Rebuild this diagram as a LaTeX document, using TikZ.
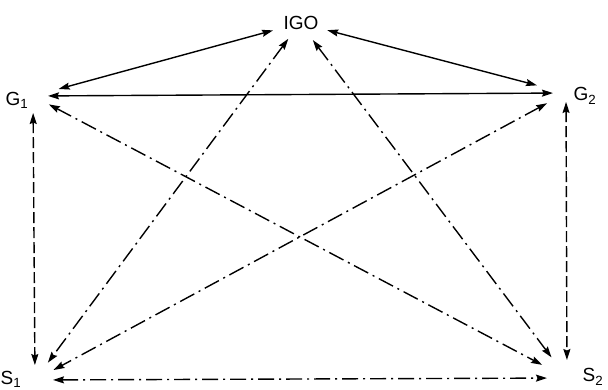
\documentclass[tikz,border=0pt]{standalone}
\usepackage{fontspec}
\setmainfont{Liberation Sans}
\usetikzlibrary{arrows.meta}

\begin{document}
\begin{tikzpicture}[x=1pt,y=-1pt,
  lab/.style={font=\fontsize{19}{21}\selectfont,inner sep=0pt},
  link/.style={line width=1.4pt,{Stealth[length=11pt,width=7pt,inset=1.5pt]}-{Stealth[length=11pt,width=7pt,inset=1.5pt]}},
  dlink/.style={link,dash pattern=on 11pt off 4pt},
  ddlink/.style={link,dash pattern=on 16pt off 5pt on 2pt off 5pt}]
\useasboundingbox (0,0) rectangle (608,389);
% labels
\node[lab] (igo) at (301,23) {IGO};
\node[lab] (g1l) at (17,100) {G\textsubscript{1}};
\node[lab] (g2l) at (585,96) {G\textsubscript{2}};
\node[lab] (s1l) at (11,379) {S\textsubscript{1}};
\node[lab] (s2l) at (593,377) {S\textsubscript{2}};
% meeting points of the arrows
\coordinate (i) at (300,23);
\coordinate (g1) at (33,96);
\coordinate (g2) at (566,93);
\coordinate (s1) at (35,380);
\coordinate (s2) at (567,378);
% solid
\draw[link,shorten <=28pt,shorten >=26.6pt] (i) -- (g1);
\draw[link,shorten <=28.2pt,shorten >=30pt] (i) -- (g2);
\draw[link,shorten <=15pt,shorten >=13pt] (g1) -- (g2);
% dashed
\draw[dlink,shorten <=17pt,shorten >=15pt] (g1) -- (s1);
\draw[dlink,shorten <=9pt,shorten >=18pt] (g2) -- (s2);
% dash-dot
\draw[ddlink,shorten <=19.7pt,shorten >=21.6pt] (i) -- (s1);
\draw[ddlink,shorten <=21.4pt,shorten >=25.8pt] (i) -- (s2);
\draw[ddlink,shorten <=18pt,shorten >=28.2pt] (g1) -- (s2);
\draw[ddlink,shorten <=21.5pt,shorten >=21pt] (g2) -- (s1);
\draw[ddlink,shorten <=18pt,shorten >=20pt] (s1) -- (s2);
\end{tikzpicture}
\end{document}
